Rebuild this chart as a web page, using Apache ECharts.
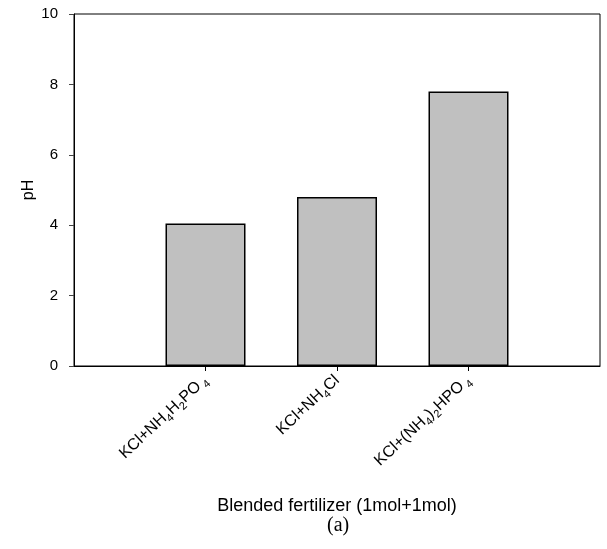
<!DOCTYPE html>
<html><head><meta charset="utf-8">
<script src="https://cdn.jsdelivr.net/npm/echarts@6/dist/echarts.min.js"></script>
<style>html,body{margin:0;padding:0;background:#fff}#c{width:607px;height:549px}</style>
</head><body><div id="c"></div>
<script>
// categories (rich-text formatted), with empty slots at both ends
var categories = ['', '{m|KCl+NH}{s|4}{m|H}{s|2}{m|PO}{s| 4}', '{m|KCl+NH}{s|4}{m|Cl}', '{m|KCl+(NH}{s|4}{m|)}{s|2}{m|HPO}{s| 4}', ''];
var phValues = [null, 4.05, 4.8, 7.8, null];
var yTicks = [0, 2, 4, 6, 8, 10];

var chart = echarts.init(document.getElementById('c'));
chart.setOption({
  animation: false,
  backgroundColor: '#fff',
  title: {
    text: '(a)', left: 322, top: 511,
    textStyle: {fontFamily: 'Liberation Serif', fontSize: 20, fontWeight: 'normal', color: '#000'}
  },
  grid: {left: 74, right: 7, top: 14, bottom: 183, show: true, borderColor: '#000', borderWidth: 1, backgroundColor: 'transparent'},
  xAxis: {
    type: 'category', data: categories, boundaryGap: false,
    name: 'Blended fertilizer (1mol+1mol)', nameLocation: 'middle', nameGap: 131,
    nameMoveOverlap: false,
    nameTextStyle: {fontFamily: 'Liberation Sans', fontSize: 18, color: '#000'},
    axisLine: {lineStyle: {color: '#000', width: 1}},
    axisTick: {show: true, length: 5, interval: function (i) { return i >= 1 && i <= 3; }, lineStyle: {color: '#000'}},
    axisLabel: {
      rotate: 43, interval: 0, margin: 12, color: '#000',
      fontFamily: 'Liberation Sans', fontSize: 16,
      rich: {
        m: {fontFamily: 'Liberation Sans', fontSize: 16, color: '#000', lineHeight: 22, verticalAlign: 'middle'},
        s: {fontFamily: 'Liberation Sans', fontSize: 11, color: '#000', lineHeight: 22, verticalAlign: 'bottom'}
      }
    },
    splitLine: {show: false}
  },
  yAxis: {
    type: 'value', min: 0, max: 10, interval: 2,
    name: 'pH', nameLocation: 'middle', nameGap: 37, nameRotate: 90,
    nameMoveOverlap: false,
    nameTextStyle: {fontFamily: 'Liberation Sans', fontSize: 16, color: '#000'},
    axisLine: {show: true, lineStyle: {color: '#000', width: 1}},
    axisTick: {show: true, length: 5, lineStyle: {color: '#444'}},
    axisLabel: {color: '#000', fontFamily: 'Liberation Sans', fontSize: 15, margin: 16,
      formatter: function (v) { return yTicks.indexOf(v) >= 0 ? String(v) : ''; }},
    splitLine: {show: false}
  },
  series: [{
    type: 'bar', data: phValues, barWidth: 80,
    itemStyle: {color: '#c0c0c0', borderColor: '#000', borderWidth: 1.5}
  }]
});
</script></body></html>
